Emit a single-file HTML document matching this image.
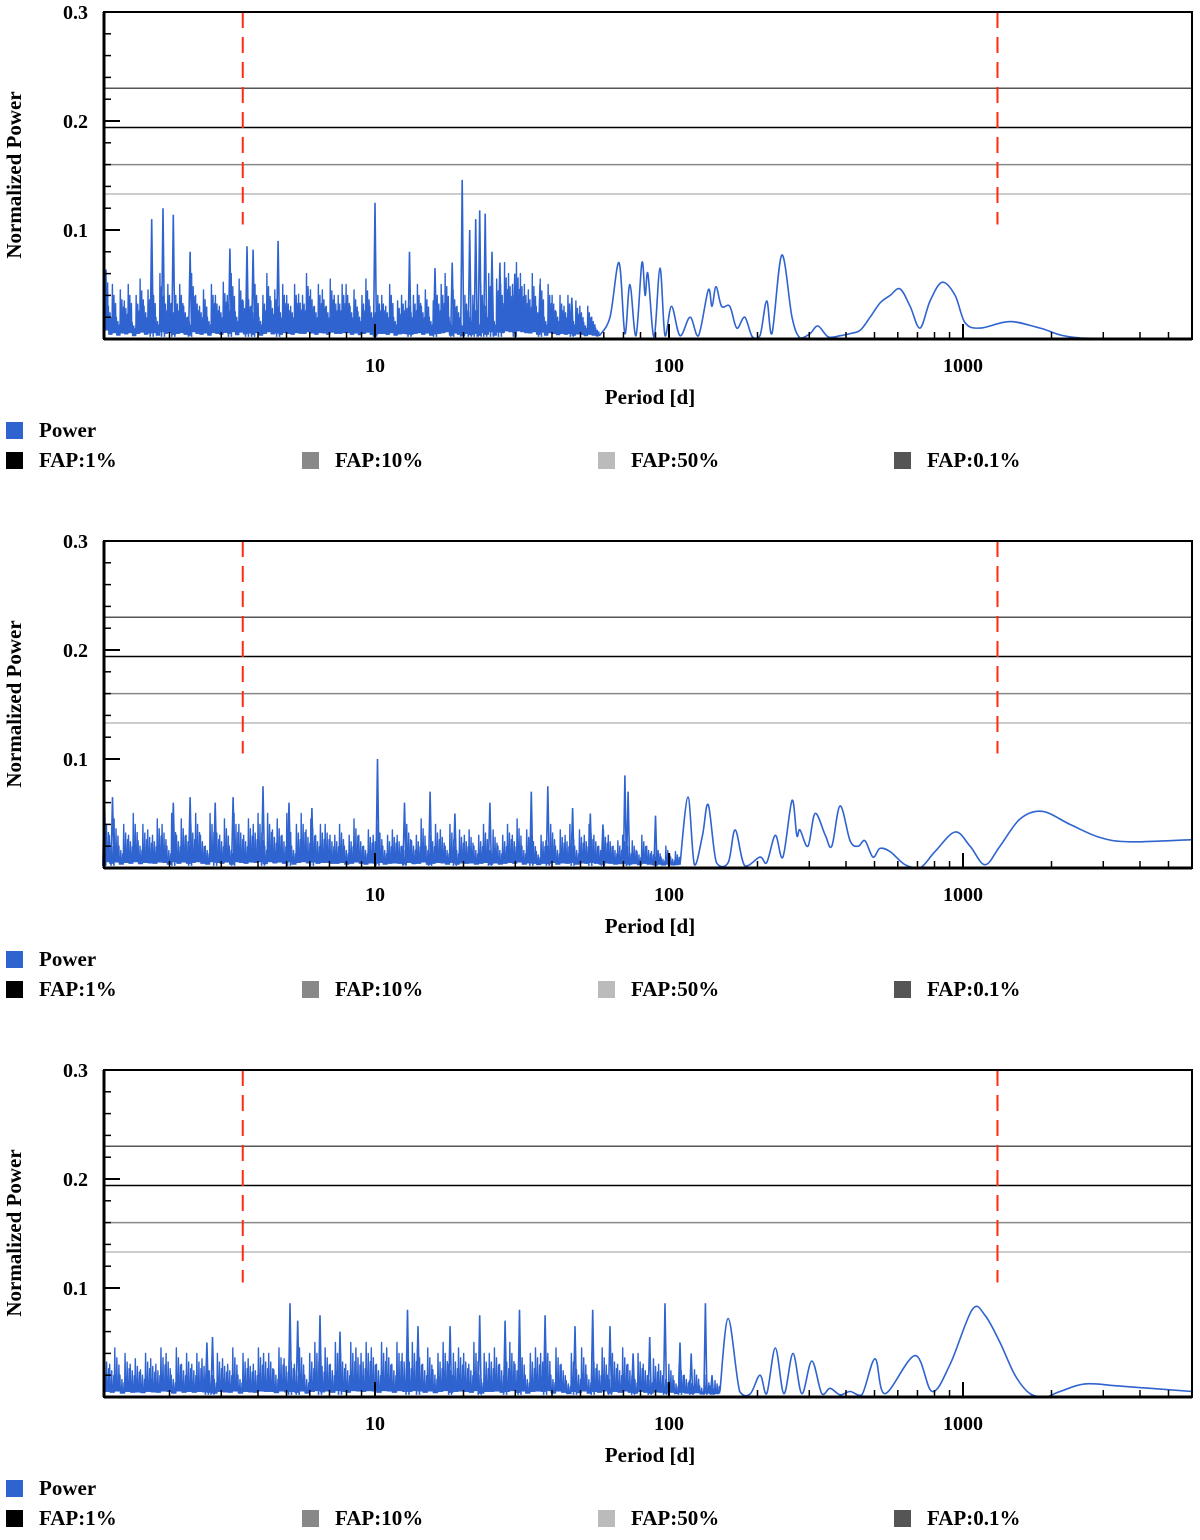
<!DOCTYPE html>
<html><head><meta charset="utf-8"><style>
body{margin:0;background:#fff}
svg text{font-family:"Liberation Serif",serif;font-weight:bold;fill:#000}
</style></head><body>
<svg id="chart" width="1200" height="1535" viewBox="0 0 1200 1535" xmlns="http://www.w3.org/2000/svg"></svg>
<script>
const xTickLabels=["10","100","1000"];
const xTickValues=[10,100,1000];
const yTickLabels=["0.1","0.2","0.3"];
const yTickValues=[0.1,0.2,0.3];
const fapLevels=[0.23,0.194,0.16,0.133];
const fapColors=["#555","#000","#888","#bbb"];
const redLines=[3.55,1310];
const legendLabels=["FAP:1%","FAP:10%","FAP:50%","FAP:0.1%"];
const legendColors=["#000","#888","#bbb","#555"];

// panel 1
const p1NoiseRange=[1.2,58];
const p1Noise=[0.079,0.03,0.05,0.02,0.045,0.035,0.05,0.015,0.04,0.055,0.03,0.045,0.05,0.02,0.06,0.04,0.05,0.03,0.04,0.05,0.03,0.02,0.06,0.04,0.03,0.045,0.02,0.05,0.04,0.03,0.052,0.04,0.06,0.025,0.055,0.035,0.045,0.03,0.05,0.02,0.04,0.06,0.035,0.045,0.03,0.05,0.04,0.03,0.05,0.041,0.04,0.06,0.045,0.03,0.05,0.045,0.03,0.055,0.04,0.04,0.05,0.05,0.03,0.045,0.025,0.04,0.055,0.03,0.03,0.04,0.04,0.03,0.05,0.02,0.035,0.04,0.035,0.03,0.04,0.05,0.03,0.045,0.02,0.035,0.04,0.05,0.06,0.02,0.045,0.03,0.015,0.04,0.025,0.04,0.02,0.05,0.03,0.06,0.02,0.055,0.05,0.07,0.06,0.05,0.07,0.06,0.05,0.045,0.06,0.03,0.055,0.02,0.05,0.04,0.025,0.04,0.03,0.04,0.02,0.035,0.03,0.015,0.03,0.02,0.01];
const p1SpikeP=[1.74,1.90,2.06,2.35,3.21,3.67,3.85,4.68,10,13.1,16.0,18.3,19.8,21.0,22.0,22.7,23.7,25,26.6,29.9,36.4,46.7];
const p1SpikeV=[0.11,0.12,0.114,0.08,0.083,0.085,0.082,0.09,0.125,0.08,0.065,0.07,0.146,0.1,0.11,0.118,0.115,0.08,0.07,0.06,0.05,0.038];
const p1SmoothP=[58,63,67.6,70.8,73.6,77.2,80.9,82.9,84.8,88.9,93.2,96.9,102,109,118,126,136,140,144.5,151,161,170,181,192,204,215,224,242,262,279,302,321,348,382,413,447,483,522,565,611,661,714,773,849,940,1016,1143,1445,1829,2500,6010];
const p1SmoothV=[0.003,0.02,0.07,0.005,0.05,0.003,0.07,0.04,0.06,0.002,0.065,0.003,0.03,0.003,0.02,0.003,0.045,0.03,0.048,0.03,0.03,0.01,0.02,0.002,0.003,0.035,0.005,0.077,0.02,0.001,0.005,0.012,0.002,0.003,0.005,0.008,0.02,0.033,0.04,0.046,0.03,0.01,0.035,0.052,0.04,0.015,0.01,0.016,0.01,0.001,0];

// panel 2
const p2NoiseRange=[1.2,109];
const p2Noise=[0.05,0.03,0.045,0.02,0.04,0.03,0.05,0.025,0.04,0.035,0.03,0.045,0.04,0.02,0.05,0.03,0.045,0.03,0.04,0.05,0.03,0.02,0.05,0.04,0.03,0.045,0.02,0.05,0.04,0.03,0.045,0.04,0.05,0.025,0.05,0.035,0.045,0.03,0.05,0.02,0.04,0.05,0.035,0.045,0.03,0.04,0.04,0.03,0.03,0.04,0.02,0.03,0.045,0.03,0.02,0.035,0.03,0.04,0.02,0.03,0.035,0.03,0.02,0.04,0.025,0.03,0.045,0.02,0.03,0.04,0.035,0.02,0.04,0.02,0.035,0.03,0.035,0.02,0.03,0.04,0.02,0.035,0.02,0.03,0.04,0.03,0.045,0.02,0.035,0.03,0.015,0.03,0.025,0.04,0.02,0.035,0.03,0.04,0.02,0.035,0.03,0.04,0.03,0.02,0.035,0.03,0.02,0.025,0.03,0.02,0.025,0.015,0.03,0.02,0.015,0.02,0.01,0.02,0.01,0.015];
const p2SpikeP=[1.2,1.28,2.06,2.35,2.86,3.29,4.16,5.1,6.1,10.2,12.6,15.4,18.7,24.6,34,38.7,47,54,59.6,70.8,72.6,90];
const p2SpikeV=[0.075,0.065,0.06,0.065,0.06,0.065,0.075,0.06,0.055,0.1,0.06,0.07,0.05,0.06,0.07,0.075,0.055,0.05,0.04,0.085,0.07,0.048];
const p2SmoothP=[109,116,122,130,136,145,159,168,181,204,215,230,244,262,272,279,297,314,340,358,382,413,440,464,494,522,565,635,714,803,940,1057,1188,1336,1563,1858,2312,2924,3698,6010];
const p2SmoothV=[0.003,0.065,0.003,0.03,0.058,0.005,0.005,0.035,0.002,0.01,0.005,0.03,0.01,0.062,0.03,0.035,0.02,0.05,0.03,0.02,0.057,0.025,0.02,0.025,0.01,0.018,0.015,0.003,0,0.015,0.033,0.02,0.003,0.02,0.045,0.052,0.04,0.028,0.024,0.026];

// panel 3
const p3NoiseRange=[1.2,149];
const p3Noise=[0.04,0.03,0.045,0.02,0.04,0.03,0.035,0.025,0.04,0.035,0.03,0.045,0.04,0.02,0.045,0.03,0.04,0.03,0.04,0.035,0.03,0.02,0.04,0.035,0.03,0.045,0.02,0.04,0.035,0.03,0.045,0.04,0.04,0.025,0.045,0.035,0.04,0.03,0.045,0.02,0.04,0.05,0.035,0.045,0.03,0.05,0.04,0.03,0.05,0.045,0.04,0.05,0.045,0.03,0.05,0.045,0.03,0.05,0.04,0.04,0.05,0.045,0.03,0.045,0.025,0.04,0.05,0.03,0.04,0.045,0.04,0.03,0.05,0.02,0.04,0.04,0.045,0.03,0.04,0.05,0.03,0.045,0.02,0.04,0.045,0.04,0.05,0.02,0.045,0.03,0.015,0.04,0.025,0.045,0.02,0.04,0.03,0.045,0.02,0.04,0.03,0.045,0.03,0.02,0.04,0.03,0.02,0.035,0.03,0.02,0.03,0.015,0.03,0.02,0.015,0.025,0.01,0.02,0.01,0.015];
const p3SpikeP=[2.68,2.8,5.14,5.46,6.5,7.6,12.9,14,18,22.7,27.7,31,37.9,47.9,55,63,75.5,86,96.9,109,119,133,140];
const p3SpikeV=[0.05,0.055,0.086,0.07,0.075,0.06,0.08,0.065,0.065,0.075,0.07,0.08,0.075,0.065,0.08,0.065,0.04,0.055,0.086,0.05,0.04,0.086,0.02];
const p3SmoothP=[149,159,174,189,204,215,230,246,264,283,306,331,353,382,413,453,502,543,687,785,904,1074,1188,1336,1503,1690,1901,2138,2600,3420,6010];
const p3SmoothV=[0.005,0.072,0.005,0.003,0.02,0.003,0.045,0.003,0.04,0.003,0.033,0.003,0.008,0.002,0.005,0.002,0.035,0.003,0.038,0.005,0.03,0.08,0.075,0.05,0.02,0.003,0,0.005,0.012,0.01,0.005];

const panels=[
 {off:0,nr:p1NoiseRange,n:p1Noise,sp:p1SpikeP,sv:p1SpikeV,mp:p1SmoothP,mv:p1SmoothV},
 {off:529,nr:p2NoiseRange,n:p2Noise,sp:p2SpikeP,sv:p2SpikeV,mp:p2SmoothP,mv:p2SmoothV},
 {off:1058,nr:p3NoiseRange,n:p3Noise,sp:p3SpikeP,sv:p3SpikeV,mp:p3SmoothP,mv:p3SmoothV}
];
const SUB=[1,0.45,0.8,0.3,0.65];
const NS="http://www.w3.org/2000/svg";
const svg=document.getElementById('chart');
const L=104,R=1192,PMIN=1.2,PMAX=6010;
function xs(p){return 375+(Math.log10(p)-1)*294;}
function mk(tag,attrs,parent){const e=document.createElementNS(NS,tag);for(const k in attrs)e.setAttribute(k,attrs[k]);(parent||svg).appendChild(e);return e;}
const BLUE="#2f63cf";
panels.forEach((pn,i)=>{
 const y0=339+pn.off;
 const ys=v=>y0-v*1090;
 const g=mk('g',{});
 
 
 fapLevels.forEach((f,j)=>{const l=mk('line',{x1:L,x2:R,y1:ys(f),y2:ys(f),stroke:fapColors[j],'stroke-width':1.5},g);
  
  });
 redLines.forEach((p,j)=>{const l=mk('line',{x1:xs(p),x2:xs(p),y1:ys(0.3),y2:ys(0.105),stroke:'#ff2a10','stroke-width':2,'stroke-dasharray':'16,9'},g);
  
  });
 // noise: each value drawn as a cluster of sub-oscillations
 const x0=xs(pn.nr[0]),x1=xs(pn.nr[1]),N=pn.n.length;
 const step=(x1-x0)/N;
 let d='M'+x0.toFixed(1)+','+ys(0.002).toFixed(1);
 pn.n.forEach((v,k)=>{
  const xb=x0+k*step;
  SUB.forEach((f,s)=>{const xp=xb+step*(s+0.25)/SUB.length;const xt=xb+step*(s+0.75)/SUB.length;
   d+='L'+xp.toFixed(2)+','+ys(v*f).toFixed(1)+'L'+xt.toFixed(2)+','+ys(0.002+v*0.08).toFixed(1);});
 });
 const np=mk('path',{d:d,fill:'none',stroke:BLUE,'stroke-width':1.4,'stroke-linejoin':'round'},g);
 
 
 let sd='';
 pn.sp.forEach((p,k)=>{const x=xs(p);sd+='M'+(x-1.5).toFixed(1)+','+ys(0.002).toFixed(1)+'L'+x.toFixed(1)+','+ys(pn.sv[k]).toFixed(1)+'L'+(x+1.5).toFixed(1)+','+ys(0.002).toFixed(1);});
 const spp=mk('path',{d:sd,fill:'none',stroke:BLUE,'stroke-width':1.6},g);
 
 
 const pts=pn.mp.map((p,k)=>[xs(p),ys(pn.mv[k])]);
 let md='M'+pts[0][0]+','+pts[0][1];
 for(let k=0;k<pts.length-1;k++){const p0=pts[Math.max(k-1,0)],p1=pts[k],p2=pts[k+1],p3=pts[Math.min(k+2,pts.length-1)];
  const c1=[p1[0]+(p2[0]-p0[0])/6,Math.min(y0,p1[1]+(p2[1]-p0[1])/6)],c2=[p2[0]-(p3[0]-p1[0])/6,Math.min(y0,p2[1]-(p3[1]-p1[1])/6)];
  md+='C'+c1[0].toFixed(1)+','+c1[1].toFixed(1)+' '+c2[0].toFixed(1)+','+c2[1].toFixed(1)+' '+p2[0].toFixed(1)+','+p2[1].toFixed(1);}
 const sm=mk('path',{d:md,fill:'none',stroke:BLUE,'stroke-width':1.6},g);
 
 
 const fr=mk('rect',{x:L,y:ys(0.3),width:R-L,height:0.3*1090,fill:'none',stroke:'#000','stroke-width':2},g);
 
 
 mk('line',{x1:L,x2:R,y1:y0,y2:y0,stroke:'#000','stroke-width':3},g);
 mk('line',{x1:L,x2:L,y1:ys(0.3),y2:y0,stroke:'#000','stroke-width':3},g);
 for(let t=1;t<15;t++){const v=t*0.02;const y=ys(v);mk('line',{x1:L,x2:L+7,y1:y,y2:y,stroke:'#000','stroke-width':1.5},g);}
 yTickValues.forEach((v,j)=>{const y=ys(v);mk('line',{x1:L,x2:L+16,y1:y,y2:y,stroke:'#000','stroke-width':2},g);
  const t=mk('text',{x:88,y:y+7,'text-anchor':'end','font-size':20},g);t.textContent=yTickLabels[j];
  
  });
 for(let e=0;e<4;e++)for(let m=1;m<10;m++){const p=m*Math.pow(10,e);if(p<PMIN||p>PMAX)continue;const x=xs(p);const major=m===1&&e>0;
  mk('line',{x1:x,x2:x,y1:y0,y2:y0-(major?15:7),stroke:'#000','stroke-width':major?2:1.5},g);}
 xTickValues.forEach((v,j)=>{const t=mk('text',{x:xs(v),y:y0+33,'text-anchor':'middle','font-size':20},g);t.textContent=xTickLabels[j];
  
  });
 const xt=mk('text',{x:650,y:y0+65,'text-anchor':'middle','font-size':21},g);xt.textContent='Period [d]';
 
 
 const yt=mk('text',{x:0,y:0,'text-anchor':'middle','font-size':21,transform:'translate(21,'+(y0-164)+') rotate(-90)'},g);yt.textContent='Normalized Power';
 
 
 const lg=mk('g',{},g);
 
 
 mk('rect',{x:6,y:y0+83,width:17,height:17,fill:BLUE},lg);
 const pt=mk('text',{x:39,y:y0+98,'font-size':21},lg);pt.textContent='Power';
 
 
 legendLabels.forEach((lab,j)=>{const x=6+j*296;mk('rect',{x:x,y:y0+113,width:17,height:17,fill:legendColors[j]},lg);
  const t=mk('text',{x:x+33,y:y0+128,'font-size':21},lg);t.textContent=lab;
  
  });
});
</script>
</body></html>
